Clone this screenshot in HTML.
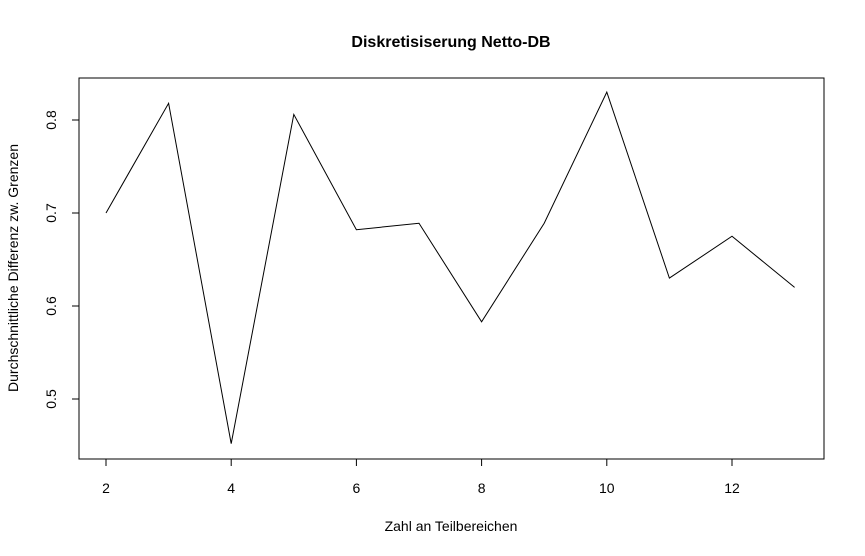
<!DOCTYPE html>
<html><head><meta charset="utf-8"><style>
body{margin:0;background:#fff;}
svg{display:block;font-family:"Liberation Sans",Arial,sans-serif;}
</style></head><body>
<svg id="chart" width="865" height="556">
<rect width="865" height="556" fill="#fff"/>
<text x="451" y="47" text-anchor="middle" font-size="16" font-weight="bold">Diskretisiserung Netto-DB</text>
<rect x="79" y="78" width="745" height="381" fill="none" stroke="#000"/>
<text x="451" y="531" text-anchor="middle" font-size="14">Zahl an Teilbereichen</text>
<text transform="translate(18,268) rotate(-90)" text-anchor="middle" font-size="14">Durchschnittliche Differenz zw. Grenzen</text>
<g id="xaxis"></g><g id="yaxis"></g><g id="series"></g>
</svg>
<script>
const xValues=[2,3,4,5,6,7,8,9,10,11,12,13];
const yValues=[0.700,0.818,0.452,0.806,0.682,0.689,0.583,0.689,0.830,0.630,0.675,0.620];
const xTicks=[2,4,6,8,10,12];
const yTicks=[0.5,0.6,0.7,0.8];
const NS="http://www.w3.org/2000/svg";
function sx(v){return 106+(v-2)*62.6;}
function sy(v){return 120+(0.8-v)*930;}
function mk(t,a,p){const e=document.createElementNS(NS,t);for(const k in a)e.setAttribute(k,a[k]);p.appendChild(e);return e;}
const xa=document.getElementById('xaxis');
mk('line',{x1:sx(xTicks[0]),x2:sx(xTicks[xTicks.length-1]),y1:459,y2:459,stroke:'#000'},xa);
xTicks.forEach(t=>{
 mk('line',{x1:sx(t),x2:sx(t),y1:459,y2:466,stroke:'#000'},xa);
 const tx=mk('text',{x:sx(t),y:493,'text-anchor':'middle','font-size':14},xa);tx.textContent=t;
 
 
});
const ya=document.getElementById('yaxis');
mk('line',{x1:79,x2:79,y1:sy(yTicks[0]),y2:sy(yTicks[yTicks.length-1]),stroke:'#000'},ya);
yTicks.forEach(t=>{
 mk('line',{x1:72,x2:79,y1:sy(t),y2:sy(t),stroke:'#000'},ya);
 const tx=mk('text',{transform:`translate(56,${sy(t)}) rotate(-90)`,'text-anchor':'middle','font-size':14},ya);tx.textContent=t.toFixed(1);
 
 
});
const s=document.getElementById('series');
const pl=mk('polyline',{points:xValues.map((x,i)=>sx(x)+','+sy(yValues[i])).join(' '),fill:'none',stroke:'#000','stroke-width':1},s);


</script>
</body></html>
